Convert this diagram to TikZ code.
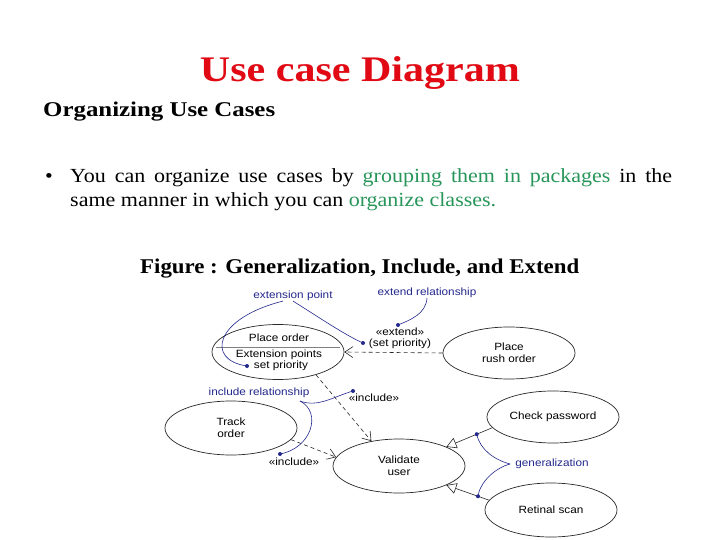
\documentclass[tikz,border=0pt]{standalone}
\usepackage{fontspec}
\usepackage{graphicx}
\setmainfont{Liberation Serif}
\newfontfamily\slidefont[FakeStretch=1.1]{Liberation Serif}
\newfontfamily\diagfont[FakeStretch=1.12]{Liberation Sans}
\usetikzlibrary{shapes.geometric,arrows.meta}
\definecolor{titlered}{RGB}{225,10,20}
\definecolor{hlgreen}{RGB}{40,150,90}
\definecolor{navy}{RGB}{35,40,140}
\definecolor{edgegray}{RGB}{40,40,40}
\tikzset{
  usecase/.style={draw=edgegray, line width=0.7pt, ellipse, inner sep=0pt, align=center,
    font=\diagfont\fontsize{10.5}{12}\selectfont},
  casetext/.style={inner sep=0pt, font=\diagfont\fontsize{10.5}{12}\selectfont},
  dep/.style={draw=edgegray, line width=0.6pt, dash pattern=on 4pt off 3pt,
    -{Straight Barb[length=8pt,width=11pt]}},
  genarrow/.style={draw=edgegray, line width=0.6pt,
    -{Triangle[open,length=10pt,width=11pt,fill=white]}},
  note/.style={draw=navy, line width=0.6pt},
  notedot/.style={circle, fill=navy, inner sep=0pt, minimum size=4pt},
  notelabel/.style={text=navy, inner sep=0pt, font=\diagfont\fontsize{10.5}{12}\selectfont},
  stereo/.style={text=black, inner sep=0pt, align=center, font=\diagfont\fontsize{10.5}{12}\selectfont},
  slidetext/.style={inner sep=0pt, anchor=base west}
}
\begin{document}
\begin{tikzpicture}[x=1pt,y=-1pt]
\useasboundingbox (0,0) rectangle (720,540);
\fill[white] (0,0) rectangle (720,540);

% ---- slide text ----
\node[inner sep=0pt, anchor=base, text=titlered] (title) at (360,82)
  {\resizebox{320pt}{\height}{\slidefont\bfseries\fontsize{36}{40}\selectfont Use case Diagram}};
\node[slidetext] (heading) at (43,117)
  {\resizebox{232pt}{\height}{\slidefont\bfseries\fontsize{21}{24}\selectfont Organizing Use Cases}};
\node[slidetext] (bullet) at (45,183) {\slidefont\fontsize{20}{24}\selectfont •};
\node[slidetext] (line1) at (70,183)
  {\slidefont\fontsize{20}{24}\selectfont\makebox[602pt][s]{You can organize use cases by \textcolor{hlgreen}{grouping them in packages} in the}};
\node[slidetext] (line2) at (70,207)
  {\slidefont\fontsize{20}{24}\selectfont same manner in which you can \textcolor{hlgreen}{organize classes.}};
\node[slidetext] (caption) at (140,273)
  {\resizebox{439pt}{\height}{\slidefont\bfseries\fontsize{21}{24}\selectfont Figure : Generalization, Include, and Extend}};

% ---- use cases ----
\node[usecase, minimum width=132pt, minimum height=55pt] (placeorder) at (278,352) {};
\draw[gray, line width=0.5pt] ([shift={(4,-5)}]placeorder.west) -- ([shift={(-4,-5)}]placeorder.east);
\node[casetext] (po1) at (279,338) {Place order};
\node[casetext] (po2) at (279,355) {Extension points};
\node[casetext] (po3) at (281,366) {set priority};

\node[usecase, minimum width=132pt, minimum height=52pt] (rush) at (509,353) {Place\\rush order};
\node[usecase, minimum width=132pt, minimum height=52pt] (check) at (553,417) {Check password};
\node[usecase, minimum width=132pt, minimum height=54pt] (retinal) at (551,510) {Retinal scan};
\node[usecase, minimum width=132pt, minimum height=54pt] (validate) at (399,466) {Validate\\user};
\node[usecase, minimum width=132pt, minimum height=54pt] (track) at (231,428) {Track\\order};

% ---- relationships ----
\draw[dep] (rush.west) -- (placeorder.east);
\draw[dep] (placeorder.-31) -- (validate.138);
\draw[dep] (track.-11) -- (validate.172);
\draw[genarrow] (check.190) -- node[pos=0.34, notedot] (gd1) {} (validate.22);
\draw[genarrow] (retinal.171) -- node[pos=0.26, notedot] (gd2) {} (validate.-22);

% ---- stereotype labels ----
\node[stereo] (extlab) at (400,332) {«extend»};
\node[stereo] (extprio) at (400,344) {(set priority)};
\node[stereo] (inclab1) at (374,398) {«include»};
\node[stereo] (inclab2) at (294,462) {«include»};

% ---- annotation labels ----
\node[notelabel] (extpt) at (293,296) {extension point};
\node[notelabel] (extrel) at (427,293) {extend relationship};
\node[notelabel] (increl) at (259,393) {include relationship};
\node[notelabel] (genlab) at (552,464) {generalization};

% ---- annotation dots ----
\node[notedot] (epdot) at (247,366) {};
\node[notedot] (exdot) at (363,343) {};
\node[notedot] (erdot) at (398,325) {};
\node[notedot] (irdot1) at (353,391) {};
\node[notedot] (irdot2) at (280,454) {};
\coordinate (irjoin) at (300,401);
\coordinate (gjoin) at (510,464);

% ---- annotation curves ----
\draw[note] ([xshift=-10pt]extpt.south) .. controls (215,318) and (205,360) .. (epdot.center);
\draw[note] (extpt.south) .. controls (320,318) and (345,335) .. (exdot.center);
\draw[note] (extrel.south) .. controls (426,314) and (410,320) .. (erdot.center);
\draw[note] (irjoin) .. controls (318,408) and (335,396) .. (irdot1.center);
\draw[note] (irjoin) .. controls (322,412) and (312,448) .. (irdot2.center);
\draw[note] (gd1.center) .. controls (480,450) and (495,460) .. (gjoin);
\draw[note] (gd2.center) .. controls (480,482) and (495,468) .. (gjoin);
\end{tikzpicture}
\end{document}
